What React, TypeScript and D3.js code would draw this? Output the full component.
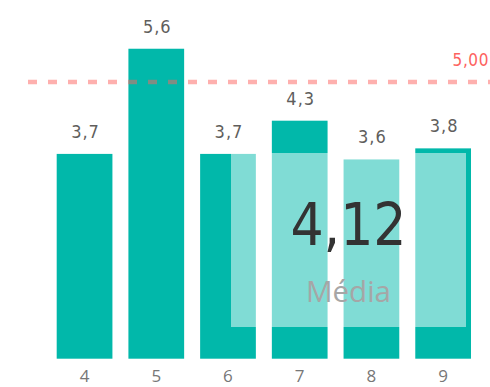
import React from "react";
import * as d3 from "d3";

const categories = ["4", "5", "6", "7", "8", "9"];
const values = [3.7, 5.6, 3.7, 4.3, 3.6, 3.8];
const targetValue = 5.0;
const cardLabel = "Média";

const W = 490;
const H = 387;

const fmt1 = (v: number) => d3.format(".1f")(v).replace(".", ",");
const fmt2 = (v: number) => d3.format(".2f")(v).replace(".", ",");

export default function App() {
  const x = d3
    .scaleBand<string>()
    .domain(categories)
    .range([48.7, 479])
    .paddingInner(0.223)
    .paddingOuter(0.1115);
  const y = d3.scaleLinear().domain([0, 6]).range([358.7, 358.7 - 6 * 55.35]);
  const mean = d3.mean(values) as number;

  const labelFont = "'DejaVu Sans Condensed', 'DejaVu Sans', sans-serif";
  const uiFont = "'Open Sans', 'Noto Sans', sans-serif";

  return (
    <svg
      width={W}
      height={H}
      style={{ position: "absolute", left: 0, top: 0, background: "#fff" }}
    >
      {categories.map((c, i) => (
        <rect
          key={c}
          x={x(c)}
          y={y(values[i])}
          width={x.bandwidth()}
          height={y(0) - y(values[i])}
          fill="#01B8AA"
        />
      ))}
      <line
        x1={28}
        x2={W}
        y1={y(targetValue)}
        y2={y(targetValue)}
        stroke="#FD625E"
        strokeOpacity={0.5}
        strokeWidth={4.5}
        strokeDasharray="9 11"
      />
      <text
        x={489}
        y={y(targetValue) - 16}
        textAnchor="end"
        fill="#FD625E"
        fontFamily={labelFont}
        fontSize={17}
        letterSpacing={0.6}
      >
        {fmt2(targetValue)}
      </text>
      {categories.map((c, i) => (
        <text
          key={"l" + c}
          x={(x(c) as number) + x.bandwidth() / 2 + 1}
          y={y(values[i]) - 16}
          textAnchor="middle"
          fill="#605E5C"
          fontFamily={labelFont}
          fontSize={18}
          letterSpacing={1}
        >
          {fmt1(values[i])}
        </text>
      ))}
      {categories.map((c) => (
        <text
          key={"x" + c}
          x={(x(c) as number) + x.bandwidth() / 2}
          y={382}
          textAnchor="middle"
          fill="#777777"
          fontFamily={uiFont}
          fontSize={17}
        >
          {c}
        </text>
      ))}
      <rect x={231} y={153} width={235} height={174} fill="#ffffff" fillOpacity={0.5} />
      <text
        x={348.5}
        y={245}
        textAnchor="middle"
        fill="#333333"
        fontFamily={labelFont}
        fontSize={58}
      >
        {fmt2(mean)}
      </text>
      <text
        x={348.5}
        y={302}
        textAnchor="middle"
        fill="#A6A6A6"
        fontFamily={uiFont}
        fontSize={29.5}
      >
        {cardLabel}
      </text>
    </svg>
  );
}
